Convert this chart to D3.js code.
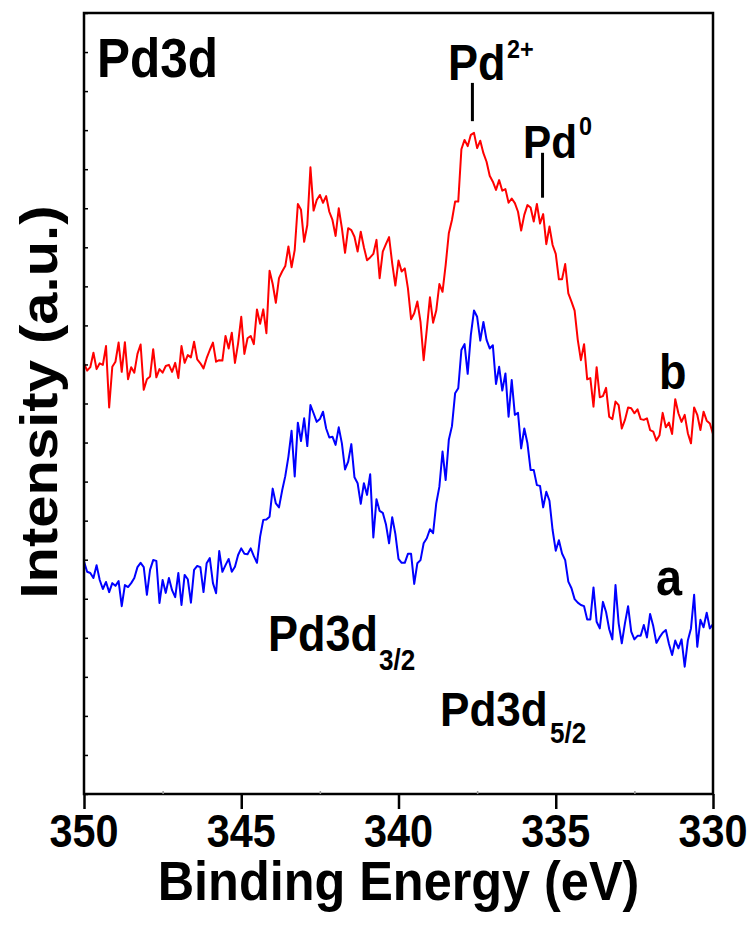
<!DOCTYPE html>
<meta charset="utf-8">
<style>
body { margin: 0; background: #fff; }
svg { display: block; }
text { font-family: "Liberation Sans", Arial, sans-serif; font-weight: bold; fill: #000; }
.curve { fill: none; stroke-width: 2px; stroke-linejoin: round; }
</style>
<body>
<script src="https://cdn.jsdelivr.net/npm/d3@7"></script>
<script>

// binding energy sampling (eV): first point and step of the scan
var eStart = 350.0,
    eStep = -0.1;

// curve a (blue), intensity in a.u., one value per 0.1 eV from 350 to 330 eV
var seriesA = [
  5.95, 5.69, 5.66, 5.53, 5.86, 5.48, 5.25, 5.43, 5.17, 5.40,
  5.33, 5.45, 4.81, 5.35, 5.30, 5.40, 5.53, 5.81, 5.92, 5.81,
  5.10, 5.74, 5.99, 5.97, 4.89, 5.48, 5.15, 5.53, 5.22, 5.04,
  5.66, 4.84, 5.61, 5.50, 4.90, 5.74, 5.84, 5.81, 5.17, 5.91,
  6.04, 5.40, 5.14, 6.22, 5.69, 5.86, 6.02, 5.69, 5.82, 6.12,
  6.29, 6.15, 6.14, 6.29, 6.09, 5.92, 6.59, 7.02, 7.03, 7.10,
  7.82, 7.44, 7.34, 7.77, 8.14, 8.64, 9.30, 8.13, 9.51, 9.04,
  9.62, 8.91, 9.96, 9.75, 9.53, 9.60, 9.79, 9.36, 9.13, 9.15,
  8.94, 9.39, 8.98, 8.31, 8.51, 8.96, 8.11, 7.96, 7.43, 7.96,
  7.66, 8.19, 6.57, 7.55, 7.25, 7.20, 6.91, 6.42, 7.09, 6.66,
  6.02, 5.92, 5.92, 6.15, 6.15, 5.38, 5.91, 5.99, 6.42, 6.55,
  6.78, 6.68, 7.44, 7.87, 8.77, 8.04, 9.07, 9.42, 10.26, 10.39,
  11.37, 11.52, 10.76, 11.75, 12.38, 12.22, 11.61, 12.09, 11.63, 11.41,
  11.49, 10.50, 10.94, 10.33, 10.77, 9.66, 10.60, 9.71, 9.76, 8.85,
  9.36, 8.98, 8.30, 8.30, 7.91, 7.89, 7.34, 7.74, 7.51, 6.76,
  6.23, 6.50, 6.16, 5.99, 5.44, 5.27, 4.99, 4.90, 4.84, 4.81,
  4.47, 4.47, 5.29, 4.41, 4.24, 4.92, 4.66, 4.22, 3.96, 5.35,
  4.37, 3.86, 4.37, 4.81, 4.16, 3.96, 4.05, 4.05, 4.33, 4.01,
  4.61, 4.30, 3.87, 4.01, 4.13, 4.20, 3.84, 3.56, 3.93, 3.73,
  3.96, 3.26, 3.93, 4.24, 5.10, 3.77, 4.46, 4.27, 4.64, 4.24,
  4.35
];

// curve b (red)
var seriesB = [
  11.03, 10.84, 10.93, 11.30, 10.88, 11.03, 10.99, 11.47, 9.90, 10.94,
  11.07, 11.56, 10.81, 11.57, 10.62, 10.93, 10.79, 11.27, 11.51, 10.35,
  10.62, 10.69, 11.39, 10.67, 10.88, 10.79, 10.96, 10.99, 10.81, 11.04,
  10.65, 11.47, 11.04, 11.24, 11.18, 11.58, 11.13, 11.03, 10.90, 11.16,
  11.37, 11.56, 11.07, 11.11, 11.10, 11.73, 11.41, 11.81, 11.04, 11.54,
  12.22, 11.27, 11.67, 11.73, 11.52, 12.41, 12.04, 12.41, 11.80, 13.40,
  13.06, 12.58, 13.21, 13.38, 13.52, 14.02, 13.49, 13.93, 15.11, 14.96,
  14.14, 14.57, 16.05, 14.94, 15.21, 15.34, 15.14, 15.31, 14.91, 14.70,
  14.29, 15.00, 14.49, 13.86, 14.49, 14.44, 14.27, 13.89, 14.40, 14.00,
  13.67, 13.74, 13.83, 14.19, 13.21, 13.89, 14.08, 14.26, 13.59, 13.02,
  13.66, 13.38, 13.46, 12.95, 12.16, 12.31, 12.61, 12.09, 11.11, 11.90,
  12.72, 12.07, 12.38, 13.06, 12.86, 13.55, 14.36, 14.70, 15.17, 15.17,
  16.51, 16.75, 16.59, 16.88, 16.93, 16.54, 16.73, 16.41, 16.19, 15.83,
  15.68, 15.47, 15.72, 15.45, 15.49, 15.14, 15.25, 15.13, 14.91, 14.43,
  14.83, 15.08, 15.02, 14.66, 15.11, 14.61, 14.85, 14.08, 14.53, 14.06,
  13.83, 13.18, 13.18, 13.57, 12.82, 12.61, 12.38, 11.63, 11.11, 11.52,
  10.62, 10.65, 9.92, 10.93, 10.16, 10.19, 10.40, 9.66, 9.60, 10.05,
  9.96, 9.36, 9.58, 9.90, 9.88, 9.75, 9.85, 9.60, 9.58, 9.62,
  9.32, 9.28, 9.05, 9.19, 9.76, 9.39, 9.51, 9.22, 10.11, 9.75,
  9.53, 9.71, 9.24, 8.98, 9.90, 9.71, 9.32, 9.79, 9.56, 9.49,
  9.22
];

var xTicks = [350, 345, 340, 335, 330],
    xMinorTicks = [347.5, 342.5, 337.5, 332.5];

// peak markers: energy, bottom and top of the marker line (a.u.)
var markers = [
  {name: "Pd2+", energy: 337.65, y0: 17.23, y1: 18.21},
  {name: "Pd0", energy: 335.42, y0: 15.27, y1: 16.42}
];

var width = 755,
    height = 933,
    margin = {top: 13, right: 42, bottom: 139, left: 84},
    squeeze = 0.9;   // the figure text is a little condensed

var svg = d3.select("body").append("svg")
    .attr("width", width)
    .attr("height", height);

var x = d3.scaleLinear()
    .domain([350, 330])
    .range([margin.left, width - margin.right]);

var y = d3.scaleLinear()
    .domain([0, 20])
    .range([height - margin.bottom, margin.top]);

function energyAt(i) { return eStart + eStep * i; }

var line = d3.line()
    .x(function(d, i) { return x(energyAt(i)); })
    .y(function(d) { return y(d); });

svg.append("path")
    .datum(seriesB)
    .attr("class", "curve")
    .attr("stroke", "#ff0000")
    .attr("d", line);

svg.append("path")
    .datum(seriesA)
    .attr("class", "curve")
    .attr("stroke", "#0000ff")
    .attr("d", line);

// frame
svg.append("rect")
    .attr("x", x(350))
    .attr("y", y(20))
    .attr("width", x(330) - x(350))
    .attr("height", y(0) - y(20))
    .attr("fill", "none")
    .attr("stroke", "#000")
    .attr("stroke-width", 2.5);

// x axis, major ticks outside
var xAxis = svg.append("g")
    .attr("transform", "translate(0," + y(0) + ")")
    .call(d3.axisBottom(x).tickValues(xTicks).tickSize(15).tickFormat(""));
xAxis.select(".domain").remove();
xAxis.selectAll("line").attr("stroke-width", 2.5);

// minor x ticks, tiny and inside
var xMinor = svg.append("g")
    .attr("transform", "translate(0," + y(0) + ")")
    .call(d3.axisTop(x).tickValues(xMinorTicks).tickSize(3).tickFormat(""));
xMinor.select(".domain").remove();
xMinor.selectAll("line").attr("stroke", "#999").attr("stroke-width", 1.5);

// y ticks, inside, no labels
var yAxis = svg.append("g")
    .attr("transform", "translate(" + x(350) + ",0)")
    .call(d3.axisRight(y).ticks(20).tickSize(4).tickFormat(""));
yAxis.select(".domain").remove();
yAxis.selectAll("line").attr("stroke-width", 1.5);

function label(px, py, str, size, anchor) {
  return svg.append("text")
      .attr("transform", "translate(" + px + "," + py + ") scale(" + squeeze + ",1)")
      .attr("text-anchor", anchor || "start")
      .style("font-size", size + "px")
      .text(str);
}

// tick labels
xTicks.forEach(function(t) {
  label(x(t), y(0) + 53, t, 46, "middle");
});

label((x(350) + x(330)) / 2, height - 33, "Binding Energy (eV)", 56, "middle");

svg.append("text")
    .attr("transform", "translate(57," + 402 + ") scale(" + squeeze + ",1) rotate(-90)")
    .attr("text-anchor", "middle")
    .style("font-size", "58px")
    .text("Intensity (a.u.)");

// markers
svg.selectAll(".marker")
    .data(markers)
  .enter().append("line")
    .attr("class", "marker")
    .attr("x1", function(d) { return x(d.energy); })
    .attr("x2", function(d) { return x(d.energy); })
    .attr("y1", function(d) { return y(d.y0); })
    .attr("y2", function(d) { return y(d.y1); })
    .attr("stroke", "#000")
    .attr("stroke-width", 3);

// annotations
label(97, 77, "Pd3d", 55);
label(448, 80, "Pd", 50);
label(507, 58, "2+", 26);
label(523, 158, "Pd", 47);
label(579, 135, "0", 26);
label(659, 389, "b", 50);
label(656, 595, "a", 52);
label(268, 651, "Pd3d", 50);
label(379, 670, "3/2", 29);
label(440, 726, "Pd3d", 49);
label(550, 743, "5/2", 29);

</script>
</body>
